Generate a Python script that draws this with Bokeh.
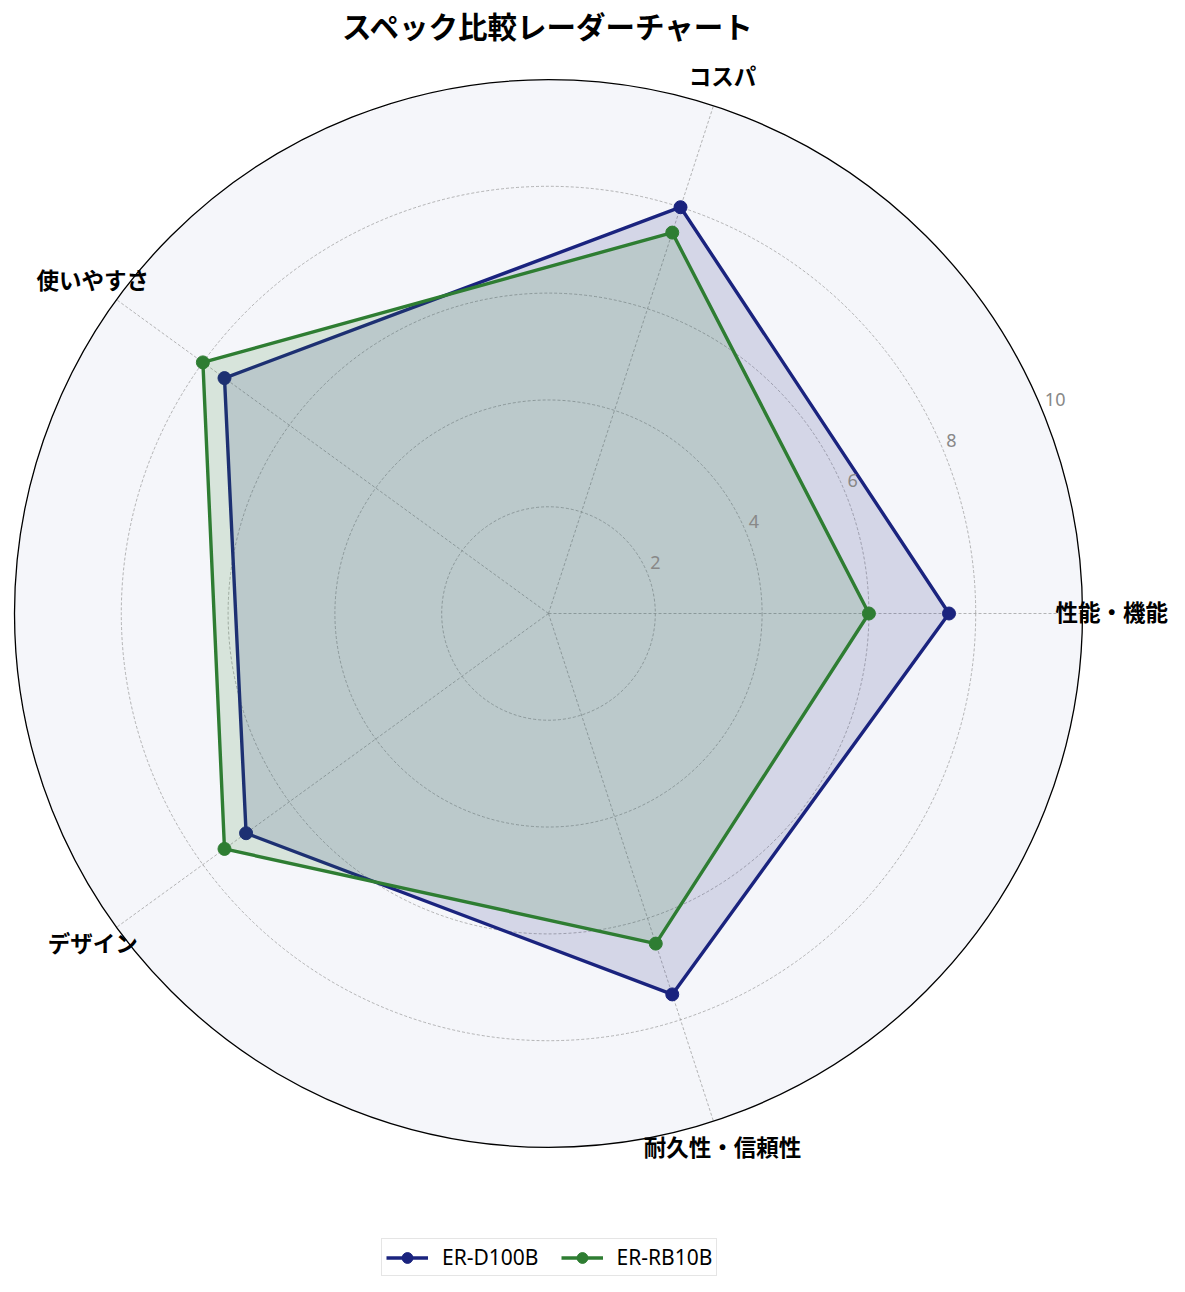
import numpy as np
from bokeh.plotting import figure
from bokeh.models import Range1d, Legend, LegendItem, ColumnDataSource
from bokeh.core.properties import value
from bokeh.embed import file_html
from bokeh.resources import INLINE

# ---- data ----
categories = ["性能・機能", "コスパ", "使いやすさ", "デザイン", "耐久性・信頼性"]
series_names = ["ER-D100B", "ER-RB10B"]
d100b_values = [7.5, 8.0, 7.5, 7.0, 7.5]
rb10b_values = [6.0, 7.5, 8.0, 7.5, 6.5]
radial_ticks = [2, 4, 6, 8, 10]
radial_tick_labels = ["2", "4", "6", "8", "10"]
title_text = "スペック比較レーダーチャート"

colors = ["#1a237e", "#2e7d32"]
FONT = "Noto Sans CJK JP"
LATIN = "Noto Sans"

# ---- geometry ----
W, H = 1169, 1276
scale = 53.4              # px per unit
cx, cy = 548, 613         # centre in canvas pixels
rmax = 10

n = len(categories)
angles = np.deg2rad(np.arange(n) * 360.0 / n)

p = figure(width=W, height=H, output_backend="svg", toolbar_location=None,
           x_range=Range1d(-cx / scale, (W - cx) / scale),
           y_range=Range1d(-(H - cy) / scale, cy / scale),
           x_axis_type=None, y_axis_type=None, min_border=0,
           background_fill_color="white", border_fill_color="white")
p.outline_line_color = None
p.grid.visible = False

# background disc
p.circle(x=[0], y=[0], radius=rmax, fill_color="#f5f6fa", line_color=None)

# grid circles
for r in radial_ticks[:-1]:
    p.circle(x=[0], y=[0], radius=r, fill_color=None, line_color="#999999",
             line_width=0.8, line_dash="3 2", line_alpha=0.9)

# spokes
for a in angles:
    p.line(x=[0, rmax * np.cos(a)], y=[0, rmax * np.sin(a)], line_color="#999999",
           line_width=0.8, line_dash="3 2", line_alpha=0.9)

# series
legend_items = []
for name, vals, col in zip(series_names, [d100b_values, rb10b_values], colors):
    v = np.array(vals + vals[:1], dtype=float)
    ang = np.concatenate([angles, angles[:1]])
    xs = v * np.cos(ang)
    ys = v * np.sin(ang)
    p.patch(x=xs, y=ys, fill_color=col, fill_alpha=0.15, line_color=None)
    lr = p.line(x=xs, y=ys, line_color=col, line_width=3.4)
    sr = p.scatter(x=xs[:-1], y=ys[:-1], size=13, fill_color=col, line_color=col)
    legend_items.append(LegendItem(label=name, renderers=[lr, sr]))

# outer circle (spine)
p.circle(x=[0], y=[0], radius=rmax, fill_color=None, line_color="black", line_width=1.3)

# radial tick labels
ra = np.deg2rad(22.5)
src_r = ColumnDataSource(dict(x=[r * np.cos(ra) for r in radial_ticks],
                              y=[r * np.sin(ra) for r in radial_ticks],
                              t=radial_tick_labels))
p.text(x="x", y="y", text="t", source=src_r, text_font=value(LATIN),
       text_font_size="18px", text_color="#888888", text_align="left",
       text_baseline="middle", x_offset=3, y_offset=-10)

# category labels
lr_ = 10.55
src_c = ColumnDataSource(dict(x=list(lr_ * np.cos(angles)), y=list(lr_ * np.sin(angles)),
                              t=categories))
p.text(x="x", y="y", text="t", source=src_c, text_font=value(FONT),
       text_font_size="22.5px", text_font_style="bold", text_color="black",
       text_align="center", text_baseline="middle", y_offset=-3)

# title
p.text(x=[0], y=[(cy - 24) / scale], text=[title_text], text_font=value(FONT),
       text_font_size="29.5px", text_font_style="bold", text_color="black",
       text_align="center", text_baseline="middle")

legend = Legend(items=legend_items, orientation="horizontal", location=(381, 0),
                margin=0, padding=4, spacing=22, label_standoff=14,
                glyph_width=42, glyph_height=27, label_height=27,
                label_text_font=LATIN, label_text_font_size="21px",
                label_text_color="black", label_text_baseline="middle",
                border_line_color="#cccccc", border_line_width=1.5,
                background_fill_color="white", background_fill_alpha=0.9)
p.add_layout(legend)

open("out.html", "w").write(file_html(p, INLINE))
